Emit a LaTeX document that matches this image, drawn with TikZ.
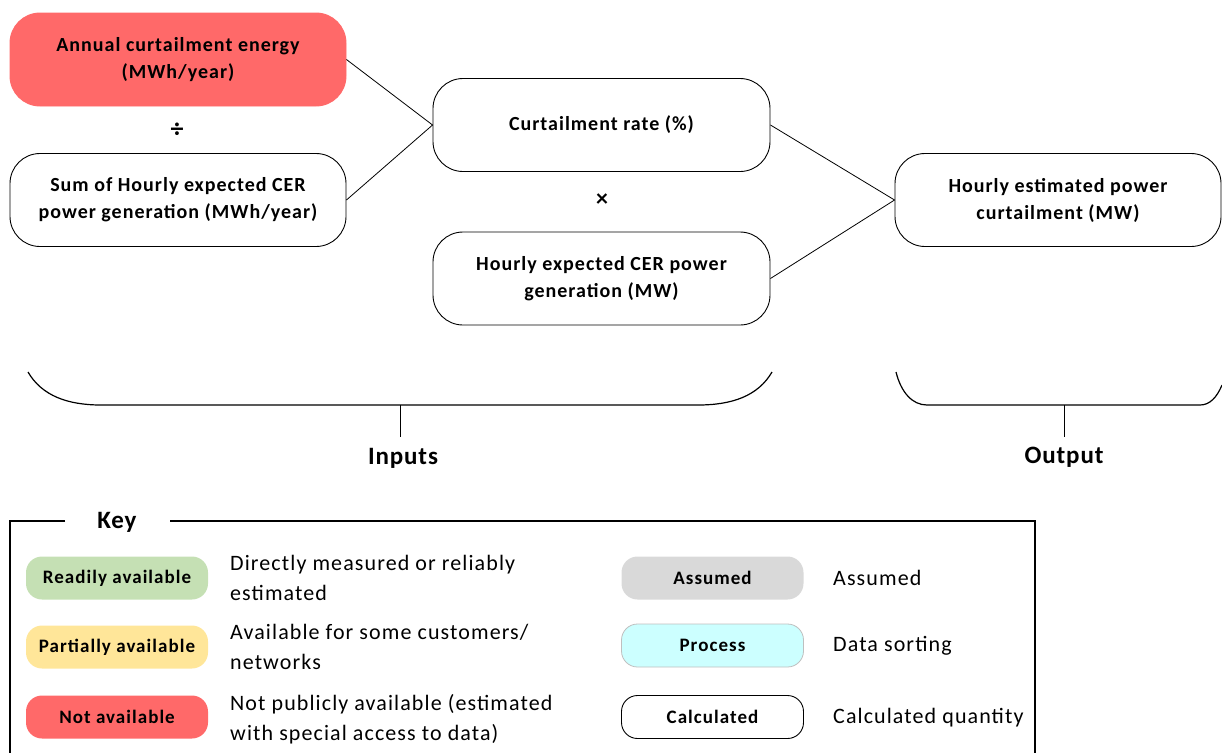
\documentclass[tikz,border=0pt]{standalone}
\usepackage{fontspec}
\setmainfont{Carlito}
\definecolor{notavail}{HTML}{FF6969}
\definecolor{readily}{HTML}{C5E0B4}
\definecolor{partial}{HTML}{FFE699}
\definecolor{assumedc}{HTML}{D9D9D9}
\definecolor{processc}{HTML}{CCFFFF}
\newcommand{\spaced}[1]{\addfontfeature{LetterSpace=#1}}
\begin{document}
\begin{tikzpicture}[x=1pt,y=-1pt,
  quantity/.style={draw=black, line width=0.9pt, rounded corners=30pt,
    minimum width=336pt, minimum height=93pt, align=center, inner sep=0pt,
    font=\fontsize{20}{27}\selectfont\bfseries\spaced{5}},
  pill/.style={rounded corners=16pt, minimum width=182pt, minimum height=43pt,
    inner sep=0pt, font=\fontsize{19}{21}\selectfont\bfseries\spaced{5.5}},
  keytext/.style={anchor=west, align=left, inner sep=0pt,
    font=\fontsize{22}{30}\selectfont\spaced{5}},
  link/.style={line width=0.8pt},
  brace/.style={line width=1.2pt},
  grouplabel/.style={font=\fontsize{25}{28}\selectfont\bfseries\spaced{3.5}, inner sep=0pt}]
\useasboundingbox (0,0) rectangle (1222,753);

% quantities of the calculation
\node[quantity, fill=notavail, draw=notavail] (annual) at (178,59.5)
  {Annual curtailment energy\\(MWh/year)};
\node[quantity, fill=white] (sumgen) at (178,200)
  {Sum of Hourly expected CER\\power generation (MWh/year)};
\node[quantity, fill=white, minimum width=337pt] (rate) at (601.5,125)
  {Curtailment rate (\%)};
\node[quantity, fill=white, minimum width=337pt] (hourgen) at (601.5,278.5)
  {Hourly expected CER power\\generation (MW)};
\node[quantity, fill=white, minimum width=326pt] (result) at (1058,200)
  {Hourly estimated power\\curtailment (MW)};

% operators
\node[font=\fontsize{26}{26}\selectfont\bfseries, inner sep=0pt] (divop) at (177,130) {÷};
\node[font=\fontsize{24}{24}\selectfont\bfseries, inner sep=0pt] (mulop) at (602,200) {×};

% connectors
\draw[link] (annual.east) -- (rate.west);
\draw[link] (sumgen.east) -- (rate.west);
\draw[link] (rate.east) -- (result.west);
\draw[link] (hourgen.east) -- (result.west);

% grouping brackets
\coordinate (inL) at (28,372);
\coordinate (inR) at (772,372);
\coordinate (inMid) at (400,405);
\coordinate (inStem) at (400,437);
\draw[brace] (inL) .. controls (42,396) and (68,405) .. (101,405)
  -- (698,405) .. controls (732,405) and (758,396) .. (inR);
\draw[link] (inMid) -- (inStem);
\node[grouplabel] (inputs) at (403,458) {Inputs};

\coordinate (outL) at (896,372);
\coordinate (outR) at (1222,385);
\coordinate (outMid) at (1064,405);
\coordinate (outStem) at (1064,437);
\draw[brace] (outL) .. controls (901,392) and (912,405) .. (927,405)
  -- (1200,405) .. controls (1210,405) and (1217,397) .. (outR);
\draw[link] (outMid) -- (outStem);
\node[grouplabel] (output) at (1064,457) {Output};

% key frame
\node[grouplabel] (keytitle) at (117,522) {Key};
\coordinate (kTL1) at (65,521);
\coordinate (kTL0) at (10,521);
\coordinate (kBL) at (10,753);
\coordinate (kTR0) at (170,521);
\coordinate (kTR1) at (1035,521);
\coordinate (kBR) at (1035,753);
\draw[line width=1.2pt] (kTL1) -- (kTL0) -- (kBL);
\draw[line width=1.2pt] (kTR0) -- (kTR1) -- (kBR);

% key entries
\node[pill, fill=readily] (kready) at (117,578) {Readily available};
\node[pill, fill=partial] (kpart) at (117,647) {Partially available};
\node[pill, fill=notavail] (knot) at (117,717) {Not available};
\node[keytext] (dready) at (230,578) {Directly measured or reliably\\estimated};
\node[keytext] (dpart) at (230,647) {Available for some customers/\\networks};
\node[keytext] (dnot) at (230,719) {Not publicly available (estimated\\with special access to data)};

\node[pill, fill=assumedc] (kassume) at (712.5,578) {Assumed};
\node[pill, fill=processc, draw=black!25, line width=0.8pt] (kproc) at (712.5,645.5) {Process};
\node[pill, fill=white, draw=black, line width=0.9pt] (kcalc) at (712.5,717) {Calculated};
\node[keytext] (dassume) at (833,578) {Assumed};
\node[keytext] (dproc) at (833,646) {Data sorting};
\node[keytext] (dcalc) at (833,718) {Calculated quantity};
\end{tikzpicture}
\end{document}
